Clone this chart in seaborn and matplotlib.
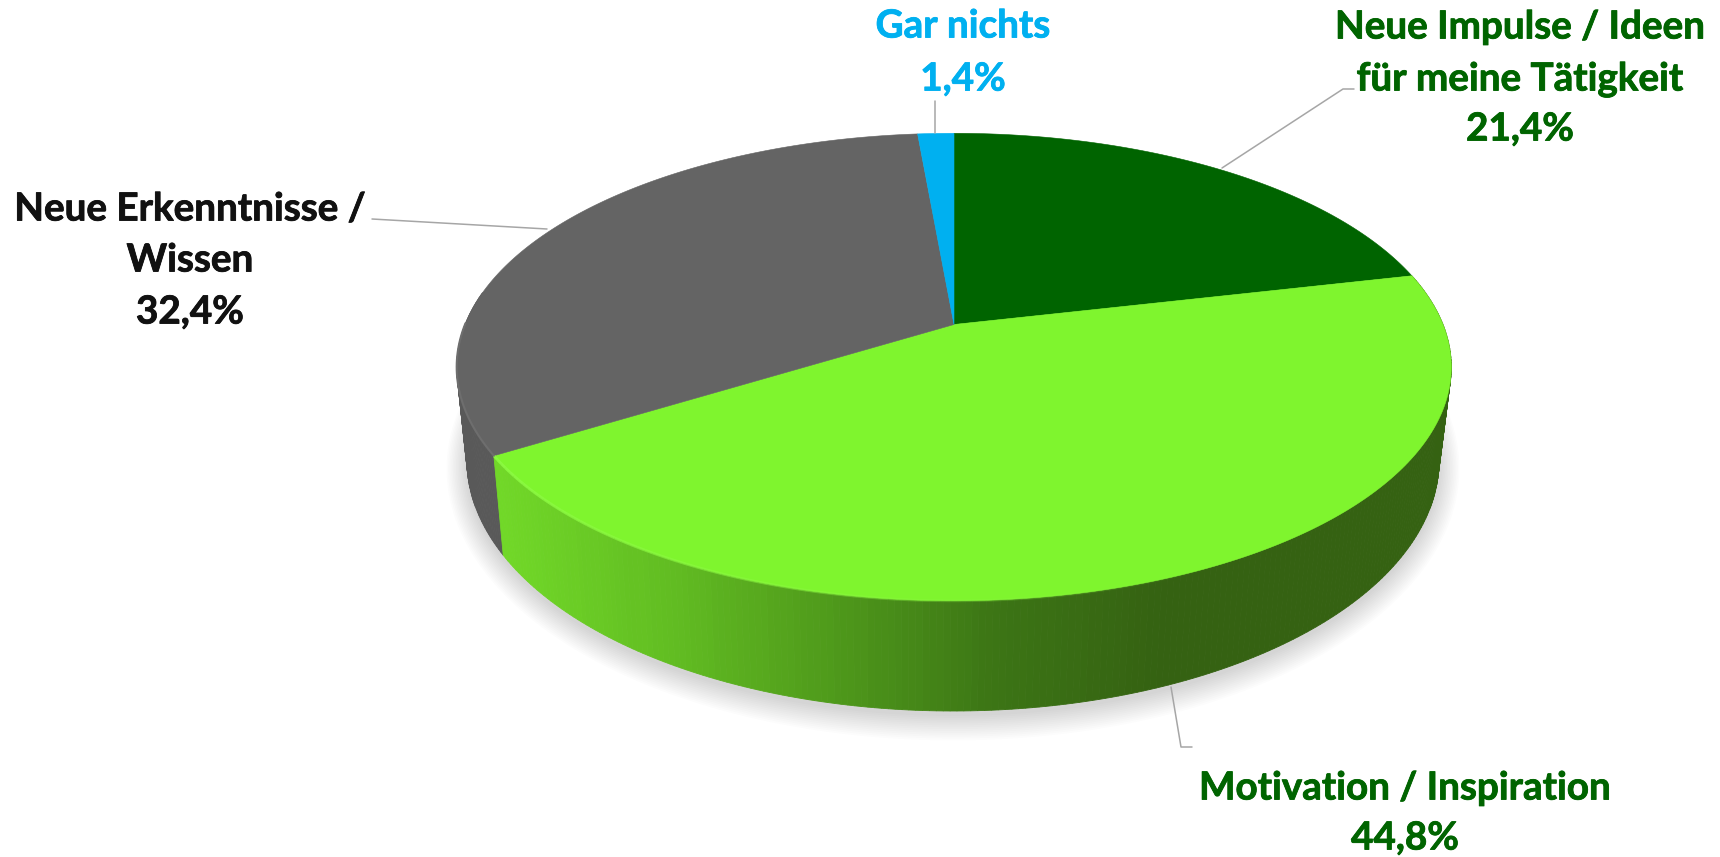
"""
Perspective 3D pie with a side wall, leader lines and centred labels
"""
import numpy as np
import matplotlib
matplotlib.use("Agg")
import matplotlib.pyplot as plt
import matplotlib.patheffects as pe
import seaborn as sns

# Clockwise from 12 o'clock
categories = ["Neue Impulse / Ideen\nfür meine Tätigkeit", "Motivation / Inspiration",
              "Neue Erkenntnisse /\nWissen", "Gar nichts"]
shares = [21.4, 44.8, 32.4, 1.4]
slice_colors = ["#006400", "#7FF52E", "#646464", "#00B0F0"]
text_colors = ["#006400", "#006400", "#111111", "#00B0F0"]

# Pie geometry in figure pixels
CX, CY = 954.0, 324.5
A, B, K = 489.0, 226.0, 0.182
BOTTOM_CX, BOTTOM_CY = 953.0, 414.3
BOTTOM_A, BOTTOM_B = 478.0, 242.7

FONT = "Lato"
FONT_SIZE = 27.8


def top_face(clock_deg):
    """Project angles on the pie top into picture coordinates"""
    t = np.radians(clock_deg)
    w = 1 + K * np.cos(t)
    return CX + A * np.sin(t) / w, CY - B * np.cos(t) / w


def bottom_rim(clock_deg, grow=0.0, drop=0.0):
    """Lower rim of the wall, optionally grown for the shadow"""
    t = np.radians(clock_deg)
    w = 1 + K * np.cos(t)
    x = BOTTOM_CX + (BOTTOM_A + grow) * np.sin(t) / w
    y = BOTTOM_CY + drop - (BOTTOM_B + grow) * np.cos(t) / w
    return x, y


def wall_strip(a0, a1, color, zorder):
    seg = np.array([a0, a1])
    tx, ty = top_face(seg)
    bx, by = bottom_rim(seg)
    ax.fill(np.r_[tx, bx[::-1]], np.r_[ty, by[::-1]], color=color, ec=color, lw=0.6, zorder=zorder)


sns.set_theme(style="white")
plt.rcParams["font.family"] = [FONT, "DejaVu Sans"]

fig, ax = plt.subplots(figsize=(17.2, 8.57), dpi=100)
ax.set_position([0, 0, 1, 1])
ax.set_xlim(0, 1720)
ax.set_ylim(857, 0)
ax.axis("off")

edges = np.concatenate([[0], np.cumsum(shares)]) * 3.6

# Soft shadow under the pie
ring = np.linspace(0, 360, 361)
for grow in np.linspace(20, 0, 14):
    sx, sy = bottom_rim(ring, grow=grow, drop=5)
    ax.fill(sx, sy, color="#000000", alpha=0.012, lw=0, zorder=1)

# Side wall: grey part first, then the green part in thin strips
grey_angles = np.linspace(edges[2], edges[2] + 40, 60)
for a0, a1 in zip(grey_angles[:-1], grey_angles[1:]):
    wall_strip(a0, a1, "#595959", 2)

green_angles = np.linspace(edges[1], edges[2], 240)
wall_ramp = sns.blend_palette(["#71D828", "#62BD22", "#4F9A1B", "#3C7515", "#356212"], 120)
for a0, a1 in zip(green_angles[:-1], green_angles[1:]):
    mid_x = top_face((a0 + a1) / 2)[0]
    pos = np.clip((mid_x - 495) / (1160 - 495), 0, 1)
    wall_strip(a0, a1, wall_ramp[int(pos * 119)], 3)

# Top face
for start, stop, color in zip(edges[:-1], edges[1:], slice_colors):
    arc = np.linspace(start, stop, 200)
    fx, fy = top_face(arc)
    ax.fill(np.r_[CX, fx], np.r_[CY, fy], color=color, ec=color, lw=0.4, zorder=4)

# Bevel highlight on the rim, fading towards the right
rim = np.linspace(edges[2], edges[2] - 85, 86)
rx, ry = top_face(rim)
for i in range(len(rim) - 1):
    ax.plot(rx[i:i + 2], ry[i:i + 2], color="#8CFA42", lw=2.0,
            alpha=0.9 * (1 - i / (len(rim) - 1)), solid_capstyle="butt", zorder=5)
rim = np.linspace(edges[2], edges[2] + 32, 40)
rx, ry = top_face(rim)
ax.plot(rx, ry, color="#6E6E6E", lw=1.5, zorder=5)

# Leader lines
leaders = [
    ([1222, 1343, 1354], [168, 89, 89]),
    ([1171, 1181, 1192], [687, 747, 747]),
    ([547, 372], [229, 219]),
    ([935, 935], [133, 101]),
]
for lx, ly in leaders:
    ax.plot(lx, ly, color="#A6A6A6", lw=1.1, zorder=6)

# Labels, one line at a time
label_x = [1520, 1405, 190, 963]
label_y = [[27, 79, 129], [788, 838], [209, 260, 312], [26, 79]]
for i, name in enumerate(categories):
    lines = name.split("\n") + [f"{shares[i]:.1f}%".replace(".", ",")]
    for line, y in zip(lines, label_y[i]):
        ax.text(label_x[i], y, line, color=text_colors[i], fontsize=FONT_SIZE,
                fontweight="bold", ha="center", va="center", zorder=7,
                path_effects=[pe.withStroke(linewidth=0.6, foreground=text_colors[i])])

fig.savefig("out.png", dpi=100)
